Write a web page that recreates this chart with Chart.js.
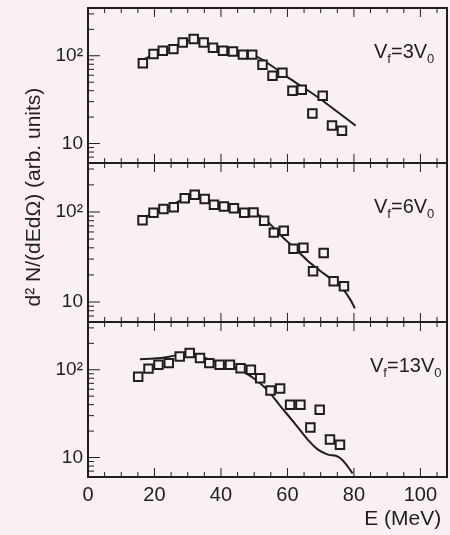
<!DOCTYPE html>
<html>
<head>
<meta charset="utf-8">
<script src="https://cdn.jsdelivr.net/npm/chart.js@4/dist/chart.umd.min.js"></script>
<style>
  body { margin: 0; background: #f9f0f3; }
  #wrap { position: relative; width: 450px; height: 535px; overflow: hidden; }
  canvas { position: absolute; left: 0; }
  #ytitle {
    position: absolute; left: -112px; top: 185px; width: 290px; height: 24px;
    line-height: 24px; text-align: center; transform: rotate(-90deg);
    font: 21px "Liberation Sans", Arial, sans-serif; color: #222;
  }
</style>
</head>
<body>
<div id="wrap">
  <canvas id="c1" width="450" height="168" style="top:0px"></canvas>
  <canvas id="c2" width="450" height="169" style="top:158px"></canvas>
  <canvas id="c3" width="450" height="218" style="top:317px"></canvas>
  <div id="ytitle">d² N/(dEdΩ) (arb. units)</div>
</div>
<script>
// measured points (squares)
const e1 = [16.5, 19.7, 22.5, 25.7, 28.5, 31.8, 34.8, 37.6, 40.6, 43.6, 46.6, 49.4, 52.5, 55.5, 58.5, 61.5, 64.3, 67.5, 70.6, 73.4, 76.4];
const d1 = [82, 105, 114, 119, 142, 155, 142, 123, 114, 112, 103, 103, 79, 59, 64, 40, 41, 22, 35, 16, 14];
const e2 = [16.4, 19.7, 22.7, 25.8, 29.1, 32.1, 35.1, 37.9, 40.9, 43.9, 47, 49.8, 53, 55.9, 58.9, 61.8, 64.8, 67.7, 70.9, 73.9, 77];
const d2 = [81, 98, 108, 113, 142, 155, 139, 120, 115, 110, 98, 99, 80, 59, 62, 39, 40, 22, 35, 17, 15];
const e3 = [15.1, 18.2, 21.2, 24.3, 27.6, 30.6, 33.7, 36.5, 39.6, 42.7, 45.9, 49, 51.8, 54.9, 57.8, 60.8, 63.9, 66.9, 69.7, 72.8, 75.8];
const d3 = [83, 103, 114, 119, 142, 155, 136, 119, 114, 114, 104, 100, 80, 58, 61, 40, 40, 22, 35, 16, 14];

// calculation curves
const lineE1 = [17, 20, 24, 28, 31, 34, 38, 42, 46, 50, 55, 60, 65, 70, 75, 80.5];
const line1 = [92, 104, 118, 138, 150, 148, 128, 116, 108, 101, 78, 57, 43, 32, 23, 16];
const lineE2 = [17, 20, 24, 28, 32, 35, 38, 42, 46, 50, 54, 58, 62, 66, 70, 74, 77, 79, 80.3];
const line2 = [86, 100, 112, 135, 150, 142, 124, 114, 104, 98, 78, 55, 40, 29, 22, 17, 13.5, 10.5, 8.5];
const lineE3 = [15.6, 20, 24, 27.3, 30.4, 34.5, 39.6, 45.7, 49.8, 53.9, 58, 62, 66.1, 69.2, 72.2, 75.3, 77.3, 79.6];
const line3 = [132, 134, 140, 148, 157, 139, 119, 100, 80, 59, 38, 25, 16, 12.3, 10.8, 10.2, 8.7, 6.6];

const panelLabels = ['3', '6', '13'];
const xLabels = [0, 20, 40, 60, 80, 100];
const yLabels = [10, 100];
const yTicks = [6, 7, 8, 9, 10, 20, 30, 40, 50, 60, 70, 80, 90, 100, 200, 300];

const bg = '#f9f0f3';
const ink = '#1e1e1e';
const font = '"Liberation Sans", Arial, sans-serif';

const pts = (xs, ys) => xs.map((x, i) => ({x: x, y: ys[i]}));

const framePlugin = {
  id: 'frame',
  afterDraw(chart, args, opts) {
    const ctx = chart.ctx, a = chart.chartArea;
    const x = chart.scales.x, y = chart.scales.y;
    ctx.save();
    ctx.strokeStyle = ink;
    ctx.lineWidth = 1;
    ctx.beginPath();
    for (let v = 0; v <= 105; v += 5) {
      const px = x.getPixelForValue(v);
      const len = v % 20 === 0 ? 9 : 5;
      ctx.moveTo(px, a.bottom); ctx.lineTo(px, a.bottom - len);
      ctx.moveTo(px, a.top); ctx.lineTo(px, a.top + len);
    }
    yTicks.forEach(v => {
      const py = y.getPixelForValue(v);
      const len = yLabels.includes(v) ? 12 : 6;
      ctx.moveTo(a.left, py); ctx.lineTo(a.left + len, py);
    });
    ctx.stroke();
    ctx.lineWidth = 2;
    ctx.strokeRect(a.left, a.top, a.right - a.left, a.bottom - a.top);

    // V_f = n V_0 label
    ctx.fillStyle = ink;
    ctx.textBaseline = 'alphabetic';
    let tx = opts.n.length > 1 ? 370 : 374;
    const base = a.top + 50;
    const part = (t, size, dy) => {
      ctx.font = size + 'px ' + font;
      ctx.fillText(t, tx, base + dy);
      tx += ctx.measureText(t).width;
    };
    part('V', 20, 0);
    part('f', 13, 5);
    part('=' + opts.n + 'V', 20, 0);
    part('0', 13, 5);
    ctx.restore();
  }
};

function makeChart(id, xs, ys, lx, ly, n, last) {
  return new Chart(document.getElementById(id), {
    type: 'scatter',
    data: {
      datasets: [{
        data: pts(xs, ys),
        pointStyle: 'rect',
        pointRadius: 6,
        pointBorderWidth: 2,
        borderColor: ink,
        backgroundColor: bg,
        showLine: false
      }, {
        data: pts(lx, ly),
        showLine: true,
        pointRadius: 0,
        borderColor: ink,
        borderWidth: 2,
        cubicInterpolationMode: 'monotone',
        fill: false
      }]
    },
    options: {
      responsive: false,
      animation: false,
      devicePixelRatio: 1,
      layout: {
        autoPadding: false,
        padding: { left: 0, right: 3, top: id === 'c1' ? 8 : 5, bottom: last ? 0 : 5 }
      },
      plugins: {
        legend: { display: false },
        tooltip: { enabled: false },
        frame: { n: n }
      },
      scales: {
        x: {
          type: 'linear',
          min: 0,
          max: 108,
          display: last,
          grid: { display: false, drawTicks: false },
          border: { display: false },
          afterBuildTicks: s => { s.ticks = xLabels.map(v => ({value: v})); },
          ticks: { color: ink, padding: 6, autoSkip: false, maxRotation: 0, font: { family: font, size: 20 } },
          title: {
            display: last, text: 'E (MeV) ', align: 'end', color: ink,
            padding: { top: 0, bottom: 3 },
            font: { family: font, size: 21 }
          },
          afterFit: s => {
            if (last) s.height = 58;
            s.paddingLeft = 0; s.paddingRight = 0;
          }
        },
        y: {
          type: 'logarithmic',
          min: 6,
          max: 350,
          grid: { display: false, drawTicks: false },
          border: { display: false },
          afterBuildTicks: s => { s.ticks = yLabels.map(v => ({value: v})); },
          ticks: {
            color: ink, padding: 5, autoSkip: false,
            font: { family: font, size: 19 },
            callback: v => v === 100 ? '10²' : String(v)
          },
          afterFit: s => {
            s.width = 88;
            s.paddingTop = 0; s.paddingBottom = 0;
          }
        }
      }
    },
    plugins: [framePlugin]
  });
}

makeChart('c1', e1, d1, lineE1, line1, panelLabels[0], false);
makeChart('c2', e2, d2, lineE2, line2, panelLabels[1], false);
makeChart('c3', e3, d3, lineE3, line3, panelLabels[2], true);
</script>
</body>
</html>
